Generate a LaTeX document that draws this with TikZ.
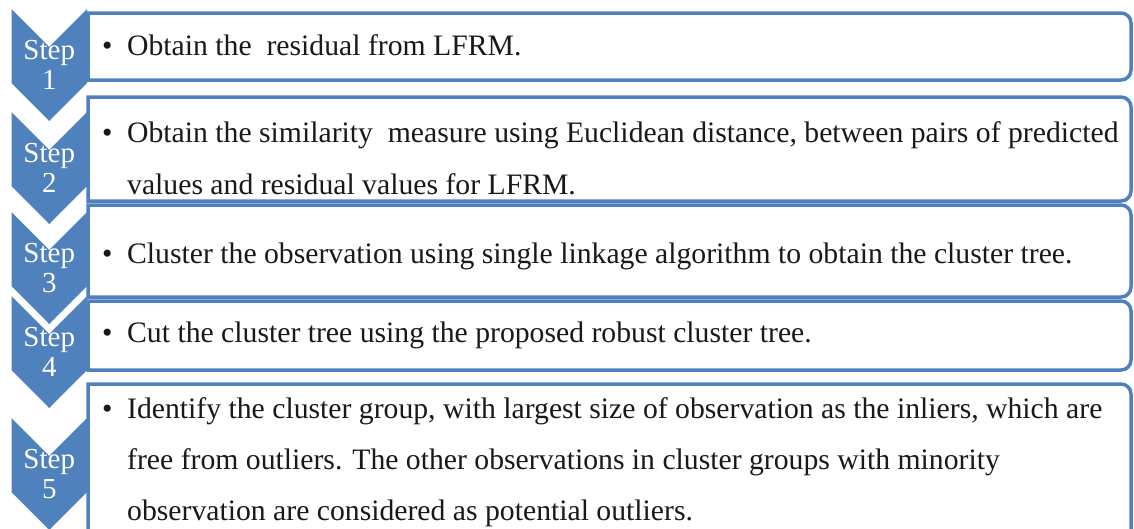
\documentclass[tikz,border=0pt]{standalone}
\usepackage{fontspec}
\setmainfont{Liberation Serif}
\usetikzlibrary{positioning}
\definecolor{stepblue}{RGB}{79,129,189}

\begin{document}
\begin{tikzpicture}[
  x=1pt, y=1pt,
  chevron/.style={fill=stepblue, draw=none},
  stepbox/.style={draw=stepblue, line width=3.5pt, fill=white},
  steplabel/.style={text=white, align=center, inner sep=0pt, font=\fontsize{29}{30}\selectfont},
  item/.style={anchor=base west, inner sep=0pt, text=black!90, font=\fontsize{29.7}{51}\selectfont}
]
\useasboundingbox (0,0) rectangle (1134,-528);
\clip (0,0) rectangle (1134,-528);

% chevrons
\foreach \n/\t in {1/9, 2/112, 3/212, 4/296, 5/418} {
  \draw[chevron] (11.5,-\t) -- (49.25,-\t-38) -- (87,-\t) -- (87,-\t-74)
    -- (49.25,-\t-112) -- (11.5,-\t-74) -- cycle;
  \node[steplabel] (step\n) at (49.25,-\t-56) {Step\\\n};
}

% boxes with rounded right corners
\foreach \n/\yt/\yb in {1/13/80, 2/97/201, 3/205/297, 4/301/370, 5/384/570} {
  \draw[stepbox] (88,-\yt) -- (1121,-\yt) arc[start angle=90, end angle=0, radius=10]
    -- (1131,-\yb+10) arc[start angle=0, end angle=-90, radius=10] -- (88,-\yb) -- cycle;
}

\newcommand{\bulletlist}[1]{\makebox[25pt][l]{\textbullet}\begin{tabular}[t]{@{}l@{}}#1\end{tabular}}

\node[item] (text1) at (102,-55) {\bulletlist{Obtain the\ \ residual from LFRM.}};
\node[item, font=\fontsize{29.7}{52}\selectfont] (text2) at (102,-142) {\bulletlist{Obtain the similarity\ \ measure using Euclidean distance, between pairs of predicted\\
  values and residual values for LFRM.}};
\node[item] (text3) at (102,-263) {\bulletlist{Cluster the observation using single linkage algorithm to obtain the cluster tree.}};
\node[item] (text4) at (102,-342) {\bulletlist{Cut the cluster tree using the proposed robust cluster tree.}};
\node[item] (text5) at (102,-418) {\bulletlist{Identify the cluster group, with largest size of observation as the inliers, which are\\
  free from outliers. The other observations in cluster groups with minority\\
  observation are considered as potential outliers.}};
\end{tikzpicture}
\end{document}
